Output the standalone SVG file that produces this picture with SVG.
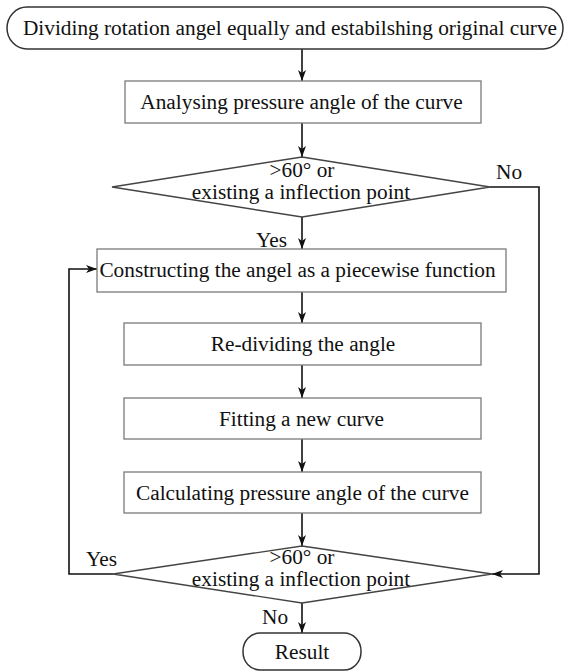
<svg xmlns="http://www.w3.org/2000/svg" width="566" height="672" viewBox="0 0 566 672">
<defs>
<style>
text{font-family:'Liberation Serif','DejaVu Serif',serif;font-size:21.3px;fill:#111}
.t{text-anchor:middle}
.box{fill:#fff;stroke:#7a7a7a;stroke-width:1.3}
.term{fill:#fff;stroke:#333;stroke-width:1.5}
.dia{fill:#fff;stroke:#444;stroke-width:1.4}
.c{fill:none;stroke:#111;stroke-width:1.6}
</style>
<marker id="ah" markerUnits="userSpaceOnUse" markerWidth="14" markerHeight="10" viewBox="-1 -5 14 10" refX="11" refY="0" orient="auto">
<path d="M0,-4 L11,0 L0,4 L3,0 z" fill="#111"/>
</marker>
</defs>
<g id="connectors">
<line class="c" x1="302" y1="49" x2="302" y2="81" marker-end="url(#ah)"/>
<line class="c" x1="302" y1="123" x2="302" y2="157" marker-end="url(#ah)"/>
<line class="c" x1="302" y1="217" x2="302" y2="249" marker-end="url(#ah)"/>
<line class="c" x1="302" y1="292" x2="302" y2="323" marker-end="url(#ah)"/>
<line class="c" x1="302" y1="365" x2="302" y2="398" marker-end="url(#ah)"/>
<line class="c" x1="302" y1="439" x2="302" y2="472" marker-end="url(#ah)"/>
<line class="c" x1="302" y1="513" x2="302" y2="546" marker-end="url(#ah)"/>
<line class="c" x1="302" y1="603" x2="302" y2="633" marker-end="url(#ah)"/>
<polyline class="c" points="490,187 539,187 539,574 492,574" marker-end="url(#ah)"/>
<polyline class="c" points="113,574 69,574 69,269 97,269" marker-end="url(#ah)"/>
<text x="496" y="179" font-family="Liberation Serif, serif">No</text>
<text x="256" y="247" font-family="Liberation Serif, serif">Yes</text>
<text x="86" y="566" font-family="Liberation Serif, serif">Yes</text>
<text x="262" y="624" font-family="Liberation Serif, serif">No</text>
</g>
<g id="start">
<rect class="term" x="7" y="7" width="556" height="42" rx="20" ry="21"/>
<text class="t" x="290" y="35" font-family="Liberation Serif, serif">Dividing rotation angel equally and estabilshing original curve</text>
</g>
<g id="analyse">
<rect class="box" x="125" y="81" width="356" height="42"/>
<text class="t" x="301.5" y="109" font-family="Liberation Serif, serif">Analysing pressure angle of the curve</text>
</g>
<g id="decision1">
<polygon class="dia" points="302,157 490,187 302,217 112,187"/>
<text class="t" x="302" y="177" font-family="Liberation Serif, serif">&gt;60° or</text>
<text class="t" x="301" y="199" font-family="Liberation Serif, serif">existing a inflection point</text>
</g>
<g id="construct">
<rect class="box" x="97" y="249" width="409" height="43"/>
<text class="t" x="297.5" y="276.5" font-family="Liberation Serif, serif">Constructing the angel as a piecewise function</text>
</g>
<g id="redivide">
<rect class="box" x="124" y="323" width="357" height="42"/>
<text class="t" x="303" y="351" font-family="Liberation Serif, serif">Re-dividing the angle</text>
</g>
<g id="fit">
<rect class="box" x="124" y="398" width="357" height="41"/>
<text class="t" x="301.5" y="425.5" font-family="Liberation Serif, serif">Fitting a new curve</text>
</g>
<g id="calculate">
<rect class="box" x="124" y="472" width="357" height="41"/>
<text class="t" x="302.5" y="499.5" font-family="Liberation Serif, serif">Calculating pressure angle of the curve</text>
</g>
<g id="decision2">
<polygon class="dia" points="302,546 492,574 302,603 113,574"/>
<text class="t" x="302" y="564" font-family="Liberation Serif, serif">&gt;60° or</text>
<text class="t" x="301" y="586" font-family="Liberation Serif, serif">existing a inflection point</text>
</g>
<g id="result">
<rect class="term" x="243" y="633" width="118" height="37" rx="17" ry="18"/>
<text class="t" x="302" y="659" font-family="Liberation Serif, serif">Result</text>
</g>
</svg>
